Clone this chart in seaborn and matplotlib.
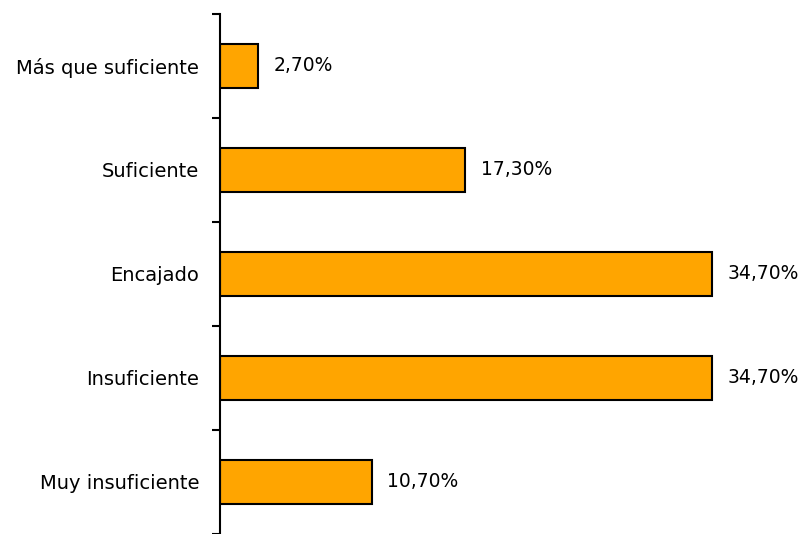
import numpy as np
import pandas as pd
import seaborn as sns
import matplotlib.pyplot as plt
from matplotlib.ticker import FixedLocator

# --- Data ---
categories = ["Más que suficiente", "Suficiente", "Encajado", "Insuficiente", "Muy insuficiente"]
values = [2.7, 17.3, 34.7, 34.7, 10.7]
value_labels = ["2,70%", "17,30%", "34,70%", "34,70%", "10,70%"]

df = pd.DataFrame({"categoria": categories, "valor": values})

sns.set_theme(style="white")
plt.rcParams['font.family'] = ['DejaVu Sans']

fig = plt.figure(figsize=(8.09, 5.34), dpi=100)
ax = fig.add_axes([0.272, 0.0, 0.701, 0.974])

sns.barplot(data=df, y="categoria", x="valor", orient="h", color="#FFA500",
            edgecolor="black", linewidth=1.5, width=0.42, saturation=1, ax=ax)

for patch, lbl in zip(ax.patches, value_labels):
    w = patch.get_width()
    yc = patch.get_y() + patch.get_height() / 2
    ax.text(w + 1.1, yc, lbl, va="center", ha="left", fontsize=13.5, color="black")

ax.set_xlim(0, 40)
ax.set_ylim(len(categories) - 0.5, -0.5)
ax.set_xlabel("")
ax.set_ylabel("")
ax.set_xticks([])

for s in ["top", "right", "bottom"]:
    ax.spines[s].set_visible(False)
ax.spines["left"].set_color("black")
ax.spines["left"].set_linewidth(1.5)

# labels at centers, tick marks at category boundaries
ax.tick_params(axis="y", which="major", length=0, pad=15, labelsize=14, labelcolor="black")
ax.yaxis.set_minor_locator(FixedLocator(np.arange(-0.5, len(categories), 1.0)))
ax.tick_params(axis="y", which="minor", length=6, width=1.5, color="black", direction="out", left=True)

fig.savefig("out.png", dpi=100)
